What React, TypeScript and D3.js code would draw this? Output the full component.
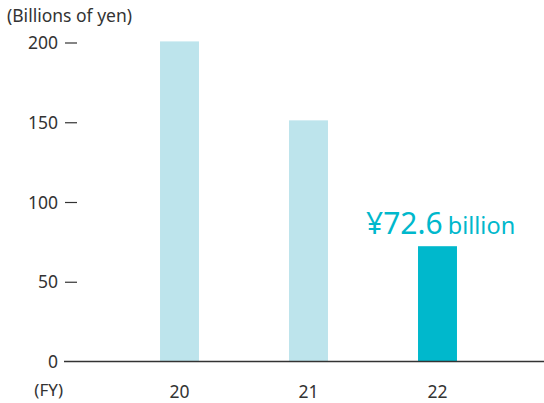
import React from 'react';
import * as d3 from 'd3';

const years = ['20', '21', '22'];
const values = [201, 151.5, 72.6];
const yTicks = [0, 50, 100, 150, 200];

const FONT = '"Noto Sans", sans-serif';

const App = () => {
  const width = 544, height = 403;
  const y = d3.scaleLinear().domain([0, 200]).range([362, 43]);
  const x = d3.scaleBand().domain(years).range([115, 502]).paddingInner(0.698).paddingOuter(0.349);

  const last = years[years.length - 1];
  const lastVal = values[values.length - 1];

  return (
    <svg width={width} height={height} style={{ position: 'absolute', left: 0, top: 0, fontFamily: FONT }}>
      <text x={7} y={22} fontSize={17.5} fill="#333">(Billions of yen)</text>

      {yTicks.map(t => (
        <g key={t}>
          <text x={58} y={y(t)} dy="0.35em" textAnchor="end" fontSize={17.5} fill="#333">{t}</text>
          {t > 0 && <line x1={65} x2={77} y1={y(t)} y2={y(t)} stroke="#333" strokeWidth={1.2} />}
        </g>
      ))}

      {years.map((yr, i) => (
        <rect key={yr}
          x={x(yr)} y={y(values[i])}
          width={x.bandwidth()} height={y(0) - y(values[i])}
          fill={yr === last ? '#00b8cc' : '#bde4ec'} />
      ))}

      <line x1={64} x2={544} y1={y(0) - 0.5} y2={y(0) - 0.5} stroke="#333" strokeWidth={1.3} />

      {years.map(yr => (
        <text key={yr} x={(x(yr) ?? 0) + x.bandwidth() / 2} y={392} dy="0.35em" textAnchor="middle" fontSize={17.5} fill="#333">{yr}</text>
      ))}
      <text x={63} y={390} dy="0.35em" textAnchor="end" fontSize={17} fill="#333">(FY)</text>

      <text x={366} y={y(lastVal) - 12} textAnchor="start" fill="#00b8cc">
        <tspan fontSize={30}>¥{lastVal}</tspan>
        <tspan fontSize={23.5} dx={5}>billion</tspan>
      </text>
    </svg>
  );
};

export default App;
